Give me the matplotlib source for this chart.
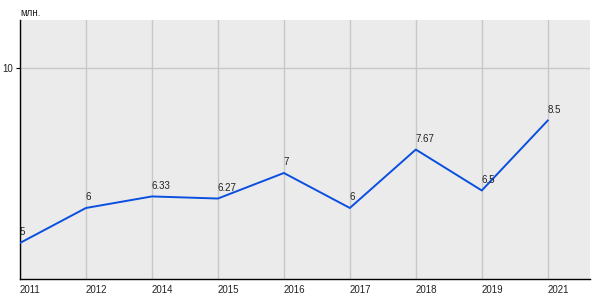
import matplotlib
matplotlib.use('Agg')
import matplotlib.pyplot as plt

years = ['2011', '2012', '2014', '2015', '2016', '2017', '2018', '2019', '2021']
values = [5, 6, 6.33, 6.27, 7, 6, 7.67, 6.5, 8.5]
labels = ['5', '6', '6.33', '6.27', '7', '6', '7.67', '6.5', '8.5']

plt.rcParams['font.family'] = ['Liberation Sans', 'DejaVu Sans']

fig = plt.figure(figsize=(6, 3), dpi=100)
ax = fig.add_axes([0.0333, 0.07, 0.95, 0.863])
ax.set_facecolor('#ebebeb')

x = list(range(len(years)))
for xi in x:
    ax.axvline(xi, color='#c8c8c8', lw=1, zorder=1)
ax.axhline(10, color='#c8c8c8', lw=1, zorder=1)

ax.plot(x, values, color='#0a4fe0', lw=1.4, zorder=3)
for xi, v, lab in zip(x, values, labels):
    ax.annotate(lab, (xi, v), xytext=(0, 4), textcoords='offset points',
                ha='left', va='bottom', fontsize=7, color='#222222')

ax.set_xlim(0, 8.64)
ax.set_ylim(3.97, 11.37)
ax.set_xticks(x)
ax.set_xticklabels(years, ha='left', fontsize=7)
ax.set_yticks([10])
ax.set_yticklabels(['10'], fontsize=7)
ax.tick_params(axis='x', length=0, pad=4, colors='#222222')
ax.tick_params(axis='y', length=3, width=0.8, pad=2, labelcolor='#222222')

for s in ['top', 'right']:
    ax.spines[s].set_visible(False)
for s in ['left', 'bottom']:
    ax.spines[s].set_color('black')
    ax.spines[s].set_linewidth(1)

fig.text(0.0333, 0.955, 'млн.', fontsize=7, ha='left', va='center', color='#222222')

fig.savefig('out.png', dpi=100)
